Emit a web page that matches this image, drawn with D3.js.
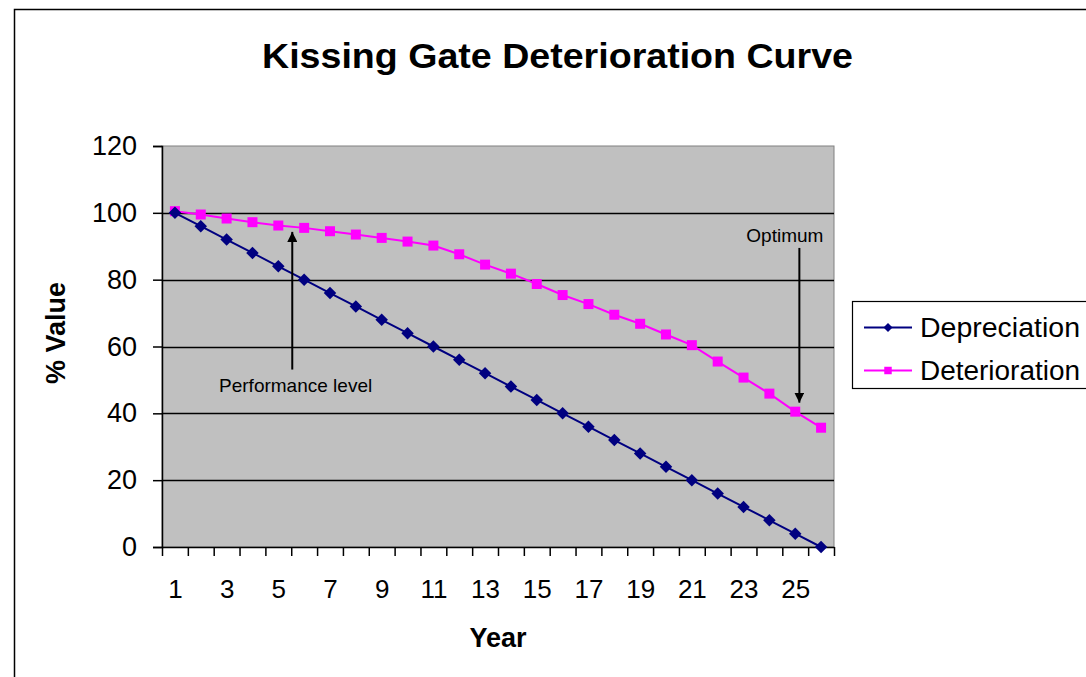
<!DOCTYPE html>
<html>
<head>
  <title>Kissing Gate Deterioration Curve</title>
  <style>
    body {
      margin: 0;
      background: white;
      font-family: Arial, "Liberation Sans", sans-serif;
    }
    svg text {
      font-family: Arial, "Liberation Sans", sans-serif;
    }
  </style>
</head>
<body>
  <div id="chart"></div>

  <script src="https://d3js.org/d3.v7.min.js"></script>
  <script>
    // Data
    const years = [1, 2, 3, 4, 5, 6, 7, 8, 9, 10, 11, 12, 13, 14, 15, 16, 17, 18, 19, 20, 21, 22, 23, 24, 25, 26];
    const depreciation = [100, 96, 92, 88, 84, 80, 76, 72, 68, 64, 60, 56, 52, 48, 44, 40, 36, 32, 28, 24, 20, 16, 12, 8, 4, 0];
    const deterioration = [100.5, 99.5, 98.3, 97.2, 96.2, 95.5, 94.5, 93.5, 92.5, 91.4, 90.2, 87.6, 84.5, 81.8, 78.7, 75.4, 72.7, 69.5, 66.8, 63.6, 60.4, 55.5, 50.7, 45.9, 40.5, 35.7];
    const yTicks = [0, 20, 40, 60, 80, 100, 120];
    const xTickLabels = [1, 3, 5, 7, 9, 11, 13, 15, 17, 19, 21, 23, 25];

    // Text annotations (year / value coordinates)
    const annotations = [
      { text: "Performance level", tx: 5.67, ty: 48.5, from: [5.54, 53.1], to: [5.54, 94.3] },
      { text: "Optimum", tx: 24.6, ty: 93.4, from: [25.16, 89.5], to: [25.16, 43.2] }
    ];

    const width = 1086, height = 677;
    const plot = { left: 162, right: 834, top: 146, bottom: 547 };

    const svg = d3.select("#chart")
      .append("svg")
      .attr("width", width)
      .attr("height", height);

    svg.append("rect")
      .attr("width", width)
      .attr("height", height)
      .attr("fill", "white");

    // Outer chart border (only top and left visible)
    svg.append("path")
      .attr("d", "M14.5," + height + "V9.5H" + width)
      .attr("fill", "none")
      .attr("stroke", "black")
      .attr("stroke-width", 1.5);

    // Scales
    const x = d3.scaleBand()
      .domain(years)
      .range([plot.left, plot.right])
      .padding(0);
    const xc = d => x(d) + x.bandwidth() / 2;

    const xLin = d3.scaleLinear()
      .domain([0.5, years.length + 0.5])
      .range([plot.left, plot.right]);

    const y = d3.scaleLinear()
      .domain([0, 120])
      .range([plot.bottom, plot.top]);

    // Plot area
    svg.append("rect")
      .attr("x", plot.left)
      .attr("y", plot.top)
      .attr("width", plot.right - plot.left)
      .attr("height", plot.bottom - plot.top)
      .attr("fill", "#c0c0c0")
      .attr("stroke", "#808080")
      .attr("stroke-width", 1);

    // Gridlines
    svg.append("g")
      .selectAll("line")
      .data(yTicks.filter(d => d > 0 && d < 120))
      .enter().append("line")
      .attr("x1", plot.left)
      .attr("x2", plot.right)
      .attr("y1", d => Math.round(y(d)) + 0.5)
      .attr("y2", d => Math.round(y(d)) + 0.5)
      .attr("stroke", "black")
      .attr("stroke-width", 1.4);

    // Y axis
    const yAxis = svg.append("g")
      .attr("transform", "translate(" + plot.left + ",0)")
      .call(d3.axisLeft(y).tickValues(yTicks).tickSize(9).tickPadding(16));
    yAxis.select(".domain").attr("stroke", "black").attr("stroke-width", 1.5);
    yAxis.selectAll(".tick line").attr("stroke", "black").attr("stroke-width", 1.5);
    yAxis.selectAll("text")
      .attr("font-size", 27)
      .attr("font-family", "Arial, 'Liberation Sans', sans-serif")
      .attr("fill", "black");

    // X axis: tick marks between categories
    const xBounds = years.map(d => d - 0.5).concat([years.length + 0.5]);
    const xAxis = svg.append("g")
      .attr("transform", "translate(0," + plot.bottom + ")")
      .call(d3.axisBottom(xLin).tickValues(xBounds).tickSize(9).tickSizeOuter(0).tickFormat(""));
    xAxis.select(".domain").attr("stroke", "black").attr("stroke-width", 1.5);
    xAxis.selectAll(".tick line").attr("stroke", "black").attr("stroke-width", 1.5);

    // X labels on odd years
    const xLabels = svg.append("g")
      .attr("transform", "translate(0," + plot.bottom + ")")
      .call(d3.axisBottom(xLin).tickValues(xTickLabels).tickSize(0).tickPadding(33).tickFormat(d3.format("d")));
    xLabels.select(".domain").remove();
    xLabels.selectAll("text")
      .attr("font-size", 26)
      .attr("font-family", "Arial, 'Liberation Sans', sans-serif")
      .attr("fill", "black");

    // Series (diamond = square turned 45 degrees)
    const series = [
      { name: "Depreciation", values: depreciation, color: "#000080", shape: d3.symbolSquare, rotate: 45, size: 78, legendSize: 40 },
      { name: "Deterioration", values: deterioration, color: "#ff00ff", shape: d3.symbolSquare, rotate: 0, size: 100, legendSize: 56 }
    ];

    const line = d3.line()
      .x((d, i) => xc(years[i]))
      .y(d => y(d));

    // draw deterioration first so depreciation sits on top at year 1
    series.slice().reverse().forEach(s => {
      svg.append("path")
        .datum(s.values)
        .attr("fill", "none")
        .attr("stroke", s.color)
        .attr("stroke-width", 2)
        .attr("d", line);

      svg.append("g")
        .selectAll("path")
        .data(s.values)
        .enter().append("path")
        .attr("transform", (d, i) => "translate(" + xc(years[i]) + "," + y(d) + ") rotate(" + s.rotate + ")")
        .attr("d", d3.symbol().type(s.shape).size(s.size))
        .attr("fill", s.color);
    });

    // Annotations
    const defs = svg.append("defs");
    defs.append("marker")
      .attr("id", "arrow")
      .attr("viewBox", "0 0 10 10")
      .attr("refX", 10)
      .attr("refY", 5)
      .attr("markerWidth", 5)
      .attr("markerHeight", 5)
      .attr("markerUnits", "strokeWidth")
      .attr("orient", "auto")
      .append("path")
      .attr("d", "M0,0L10,5L0,10z")
      .attr("fill", "black");

    annotations.forEach(a => {
      svg.append("line")
        .attr("x1", xLin(a.from[0]))
        .attr("y1", y(a.from[1]))
        .attr("x2", xLin(a.to[0]))
        .attr("y2", y(a.to[1]))
        .attr("stroke", "black")
        .attr("stroke-width", 2)
        .attr("marker-end", "url(#arrow)");

      svg.append("text")
        .attr("x", xLin(a.tx))
        .attr("y", y(a.ty))
        .attr("dy", "0.35em")
        .attr("text-anchor", "middle")
        .attr("font-size", 19)
        .attr("fill", "black")
        .text(a.text);
    });

    // Title
    svg.append("text")
      .attr("x", 557.5)
      .attr("y", 68)
      .attr("text-anchor", "middle")
      .attr("font-size", 35)
      .attr("font-weight", "bold")
      .attr("textLength", 591)
      .attr("lengthAdjust", "spacingAndGlyphs")
      .text("Kissing Gate Deterioration Curve");

    // Axis titles
    svg.append("text")
      .attr("x", (plot.left + plot.right) / 2)
      .attr("y", 647)
      .attr("text-anchor", "middle")
      .attr("font-size", 27)
      .attr("font-weight", "bold")
      .text("Year");

    svg.append("text")
      .attr("transform", "translate(65,333) rotate(-90)")
      .attr("text-anchor", "middle")
      .attr("font-size", 27)
      .attr("font-weight", "bold")
      .text("% Value");

    // Legend
    const legend = svg.append("g");
    legend.append("rect")
      .attr("x", 852.5)
      .attr("y", 301.5)
      .attr("width", 260)
      .attr("height", 87)
      .attr("fill", "white")
      .attr("stroke", "black")
      .attr("stroke-width", 1.2);

    const legendRows = [327.5, 370.5];
    series.forEach((s, i) => {
      const row = legend.append("g").attr("transform", "translate(0," + legendRows[i] + ")");
      row.append("line")
        .attr("x1", 864)
        .attr("x2", 912)
        .attr("stroke", s.color)
        .attr("stroke-width", 2);
      row.append("path")
        .attr("transform", "translate(888,0) rotate(" + s.rotate + ")")
        .attr("d", d3.symbol().type(s.shape).size(s.legendSize))
        .attr("fill", s.color);
      row.append("text")
        .attr("x", 920)
        .attr("dy", "0.36em")
        .attr("font-size", 27)
        .attr("textLength", 160)
        .attr("lengthAdjust", "spacingAndGlyphs")
        .text(s.name);
    });
  </script>
</body>
</html>
